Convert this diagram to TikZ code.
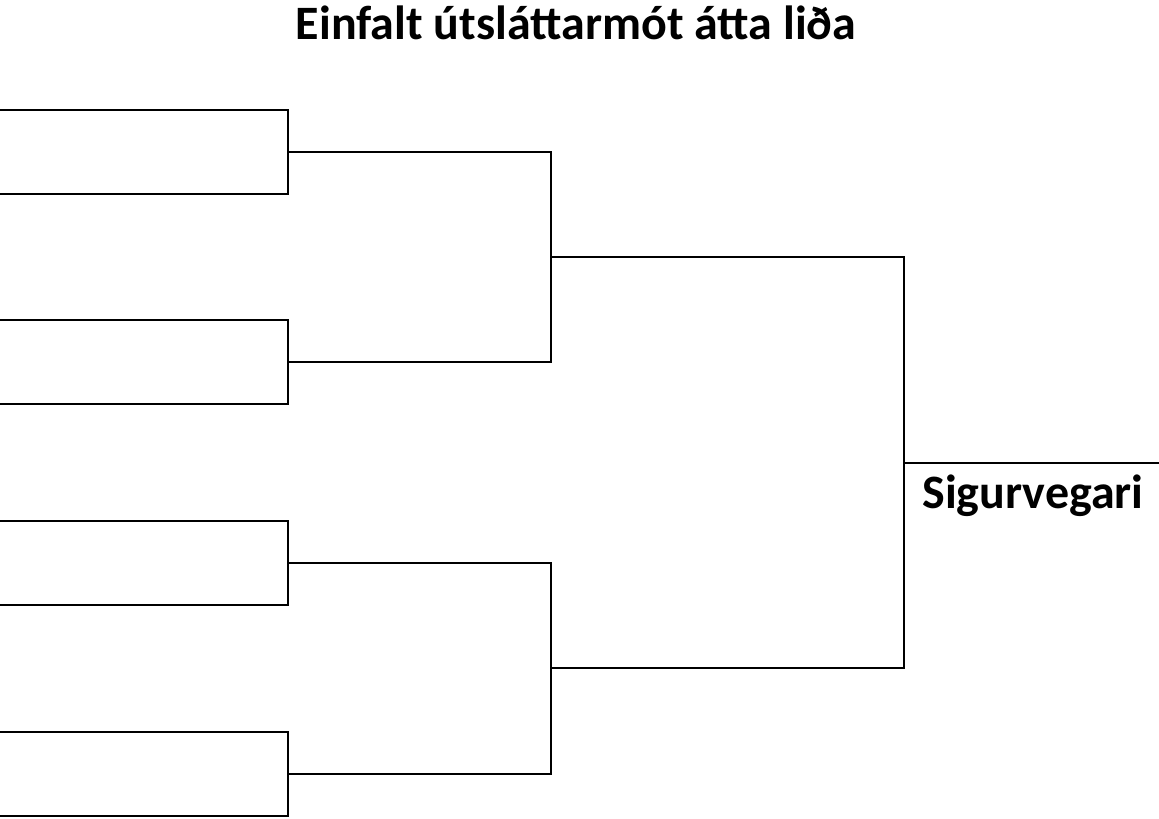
\documentclass[tikz,border=0pt]{standalone}
\usepackage{fontspec}
\setmainfont{Carlito}
\usepackage{tikz}

\tikzset{bracket/.style={line width=1.5pt,line join=miter},
         label/.style={font=\fontsize{27.3}{30}\selectfont\bfseries,inner sep=0pt}}

\begin{document}
\begin{tikzpicture}[x=0.02cm,y=-0.02cm]
    \useasboundingbox (0,0) rectangle (1159,818);

    \node[label] (titill) at (576,23) {Einfalt útsláttarmót átta liða};

    % lid
    \coordinate (t1) at (0,110);
    \coordinate (t2) at (0,194);
    \coordinate (t3) at (0,320);
    \coordinate (t4) at (0,404);
    \coordinate (t5) at (0,521);
    \coordinate (t6) at (0,605);
    \coordinate (t7) at (0,732);
    \coordinate (t8) at (0,816);
    % leikir
    \coordinate (q1) at (288,152);
    \coordinate (q2) at (288,362);
    \coordinate (q3) at (288,563);
    \coordinate (q4) at (288,774);
    \coordinate (s1) at (551,257);
    \coordinate (s2) at (551,668);
    \coordinate (f) at (904,463);
    \coordinate (w) at (1159,463);

    \draw[bracket] (t1) -| (q1) |- (t2);
    \draw[bracket] (t3) -| (q2) |- (t4);
    \draw[bracket] (t5) -| (q3) |- (t6);
    \draw[bracket] (t7) -| (q4) |- (t8);

    \draw[bracket] (q1) -| (s1) |- (q2);
    \draw[bracket] (q3) -| (s2) |- (q4);

    \draw[bracket] (s1) -| (f) |- (s2);
    \draw[bracket] (f) -- (w);

    \node[label] (sigur) at (1033,496) {Sigurvegari};
\end{tikzpicture}
\end{document}
